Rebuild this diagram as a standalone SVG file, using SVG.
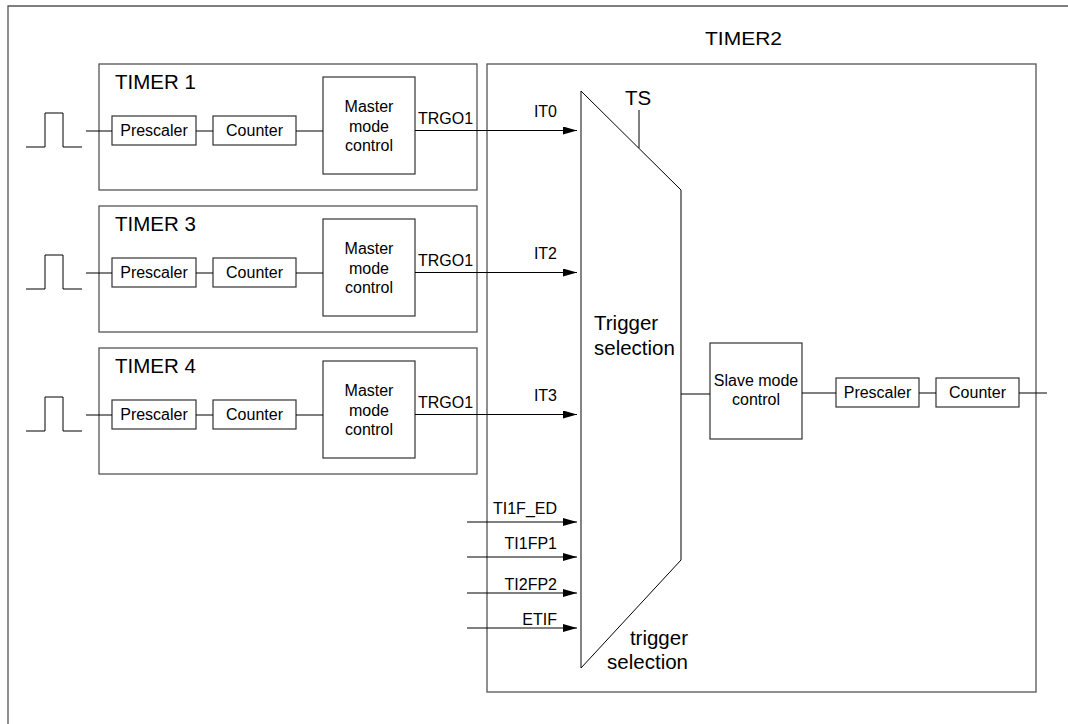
<svg xmlns="http://www.w3.org/2000/svg" width="1068" height="724" viewBox="0 0 1068 724">
<defs>
<marker id="ah" markerWidth="14" markerHeight="8" refX="14" refY="4" orient="auto" markerUnits="userSpaceOnUse">
<path d="M0,0 L14,4 L0,8 Z" fill="#000"/>
</marker>
<style>
text{font-family:"Liberation Sans",Arial,sans-serif;fill:#000}
.lbl{font-size:16px}
.big{font-size:20.5px}
.mid{text-anchor:middle}
.end{text-anchor:end}
.box{fill:#fff;stroke:#333;stroke-width:1.2}
.frame{fill:none;stroke:#555;stroke-width:1.3}
.ln{fill:none;stroke:#000;stroke-width:1}
.arr{fill:none;stroke:#000;stroke-width:1;marker-end:url(#ah)}
</style>
</defs>
<rect width="1068" height="724" fill="#fff"/>
<path d="M8,724 V6 H1068" class="frame"/>

<g id="timer2">
<rect x="487" y="64" width="549" height="628" class="frame" stroke="#333"/>
<text x="705" y="45" style="font-size:19px" textLength="77" lengthAdjust="spacingAndGlyphs">TIMER2</text>
</g>

<g id="timer1">
<rect x="99" y="64" width="378" height="126" class="frame"/>
<text x="115" y="89" class="big">TIMER 1</text>
<polyline points="26,147 45,147 45,113 63,113 63,147 82,147" class="ln"/>
<rect x="112" y="116" width="84" height="29" class="box"/>
<text x="154" y="136" class="lbl mid">Prescaler</text>
<rect x="213" y="116" width="83" height="29" class="box"/>
<text x="254.5" y="136" class="lbl mid">Counter</text>
<rect x="323" y="77" width="92" height="97" class="box"/>
<text x="369" y="112" class="lbl mid">Master</text>
<text x="369" y="131.5" class="lbl mid">mode</text>
<text x="369" y="151" class="lbl mid">control</text>
<text x="418" y="124" class="lbl">TRGO1</text>
</g>

<g id="timer3" transform="translate(0,142)">
<rect x="99" y="64" width="378" height="126" class="frame"/>
<text x="115" y="89" class="big">TIMER 3</text>
<polyline points="26,147 45,147 45,113 63,113 63,147 82,147" class="ln"/>
<rect x="112" y="116" width="84" height="29" class="box"/>
<text x="154" y="136" class="lbl mid">Prescaler</text>
<rect x="213" y="116" width="83" height="29" class="box"/>
<text x="254.5" y="136" class="lbl mid">Counter</text>
<rect x="323" y="77" width="92" height="97" class="box"/>
<text x="369" y="112" class="lbl mid">Master</text>
<text x="369" y="131.5" class="lbl mid">mode</text>
<text x="369" y="151" class="lbl mid">control</text>
<text x="418" y="124" class="lbl">TRGO1</text>
</g>

<g id="timer4" transform="translate(0,284)">
<rect x="99" y="64" width="378" height="126" class="frame"/>
<text x="115" y="89" class="big">TIMER 4</text>
<polyline points="26,147 45,147 45,113 63,113 63,147 82,147" class="ln"/>
<rect x="112" y="116" width="84" height="29" class="box"/>
<text x="154" y="136" class="lbl mid">Prescaler</text>
<rect x="213" y="116" width="83" height="29" class="box"/>
<text x="254.5" y="136" class="lbl mid">Counter</text>
<rect x="323" y="77" width="92" height="97" class="box"/>
<text x="369" y="112" class="lbl mid">Master</text>
<text x="369" y="131.5" class="lbl mid">mode</text>
<text x="369" y="151" class="lbl mid">control</text>
<text x="418" y="124" class="lbl">TRGO1</text>
</g>

<g id="trigger-selection">
<path d="M581,668 V91" fill="none" stroke="#666" stroke-width="1.6"/>
<path d="M581,91 L681,190 V560 L581,668" fill="none" stroke="#000" stroke-width="1"/>
<line x1="639" y1="110" x2="639" y2="148" class="ln"/>
<text x="638" y="105" class="big mid">TS</text>
<text x="594" y="330" class="big">Trigger</text>
<text x="594" y="355" class="big">selection</text>
<text x="688" y="645" class="big end">trigger</text>
<text x="688" y="669" class="big end">selection</text>
</g>

<g id="slave-mode-control">
<rect x="710" y="343" width="92" height="96" class="box"/>
<text x="756" y="386" class="lbl mid">Slave mode</text>
<text x="756" y="405" class="lbl mid">control</text>
</g>

<g id="t2-prescaler">
<rect x="836" y="378" width="83" height="29" class="box"/>
<text x="877.5" y="398" class="lbl mid">Prescaler</text>
</g>

<g id="t2-counter">
<rect x="936" y="378" width="83" height="29" class="box"/>
<text x="977.5" y="398" class="lbl mid">Counter</text>
</g>

<g id="input-labels">
<text x="557" y="117" class="lbl end">IT0</text>
<text x="557" y="259" class="lbl end">IT2</text>
<text x="557" y="401" class="lbl end">IT3</text>
<text x="557" y="514" class="lbl end">TI1F_ED</text>
<text x="557" y="549" class="lbl end">TI1FP1</text>
<text x="557" y="590" class="lbl end">TI2FP2</text>
<text x="557" y="625" class="lbl end">ETIF</text>
</g>

<g id="connectors">
<line x1="86" y1="131" x2="112" y2="131" class="ln"/>
<line x1="196" y1="131" x2="213" y2="131" class="ln"/>
<line x1="296" y1="131" x2="323" y2="131" class="ln"/>
<line x1="86" y1="273" x2="112" y2="273" class="ln"/>
<line x1="196" y1="273" x2="213" y2="273" class="ln"/>
<line x1="296" y1="273" x2="323" y2="273" class="ln"/>
<line x1="86" y1="415" x2="112" y2="415" class="ln"/>
<line x1="196" y1="415" x2="213" y2="415" class="ln"/>
<line x1="296" y1="415" x2="323" y2="415" class="ln"/>
<line x1="415" y1="130.5" x2="577" y2="130.5" class="arr"/>
<line x1="415" y1="272.5" x2="577" y2="272.5" class="arr"/>
<line x1="415" y1="414.5" x2="577" y2="414.5" class="arr"/>
<line x1="467" y1="522" x2="577" y2="522" class="arr"/>
<line x1="467" y1="557" x2="577" y2="557" class="arr"/>
<line x1="467" y1="593" x2="577" y2="593" class="arr"/>
<line x1="467" y1="628" x2="577" y2="628" class="arr"/>
<line x1="681" y1="394" x2="710" y2="394" class="ln"/>
<line x1="802" y1="393" x2="836" y2="393" class="ln"/>
<line x1="919" y1="393" x2="936" y2="393" class="ln"/>
<line x1="1019" y1="393" x2="1047" y2="393" class="ln"/>
</g>
</svg>
